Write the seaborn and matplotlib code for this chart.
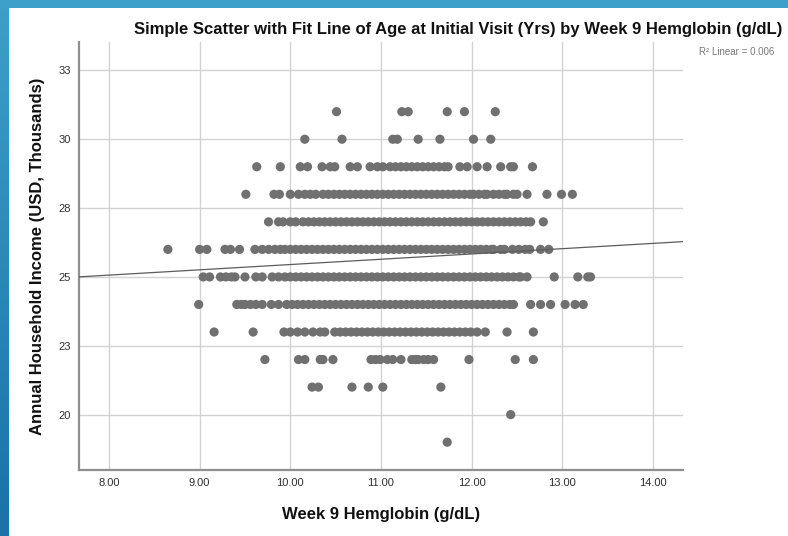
import numpy as np
import pandas as pd
import matplotlib
matplotlib.use("Agg")
import matplotlib.pyplot as plt
from matplotlib.patches import Rectangle
from matplotlib.colors import LinearSegmentedColormap
import seaborn as sns

# ---- data ----
hgb_31 = [10.51, 11.23, 11.30, 11.73, 11.92, 12.26]
hgb_30 = [10.16, 10.57, 11.13, 11.18, 11.41, 11.65, 12.02, 12.21]
hgb_29 = [9.63, 9.89, 10.11, 10.19, 10.35, 10.44, 10.49, 10.66, 10.74, 10.88, 10.96, 11.02,
          11.10, 11.16, 11.22, 11.28, 11.34, 11.40, 11.46, 11.52, 11.58, 11.64, 11.70, 11.74,
          11.87, 11.95, 12.06, 12.17, 12.32, 12.43, 12.46, 12.67]
hgb_28 = [9.51, 9.82, 9.88, 10.00, 10.09, 10.16, 10.22, 10.28, 10.36, 10.42, 10.48, 10.54,
          10.60, 10.66, 10.72, 10.78, 10.84, 10.90, 10.96, 11.02, 11.08, 11.14, 11.20, 11.26,
          11.32, 11.38, 11.44, 11.50, 11.56, 11.62, 11.68, 11.74, 11.80, 11.86, 11.92, 11.98,
          12.02, 12.08, 12.14, 12.17, 12.24, 12.30, 12.36, 12.39, 12.46, 12.50, 12.61, 12.83,
          12.99, 13.11]
hgb_27 = [9.76, 9.87, 9.92, 10.00, 10.06, 10.14, 10.20, 10.26, 10.32, 10.38, 10.44, 10.50,
          10.56, 10.62, 10.68, 10.74, 10.80, 10.86, 10.92, 10.98, 11.04, 11.10, 11.16, 11.22,
          11.28, 11.34, 11.40, 11.46, 11.52, 11.58, 11.64, 11.70, 11.76, 11.82, 11.88, 11.94,
          12.00, 12.06, 12.12, 12.18, 12.24, 12.30, 12.36, 12.42, 12.48, 12.54, 12.60, 12.65,
          12.79]
hgb_26 = [8.65, 9.00, 9.08, 9.28, 9.34, 9.44, 9.61, 9.69, 9.76, 9.83, 9.89, 9.94, 10.00,
          10.06, 10.12, 10.18, 10.24, 10.30, 10.36, 10.42, 10.48, 10.54, 10.60, 10.66, 10.72,
          10.78, 10.84, 10.90, 10.96, 11.02, 11.08, 11.14, 11.20, 11.26, 11.32, 11.38, 11.44,
          11.50, 11.56, 11.62, 11.68, 11.74, 11.80, 11.86, 11.92, 11.98, 12.04, 12.10, 12.16,
          12.22, 12.24, 12.32, 12.36, 12.45, 12.52, 12.59, 12.64, 12.76, 12.85]
hgb_25 = [9.04, 9.11, 9.23, 9.29, 9.35, 9.39, 9.50, 9.62, 9.69, 9.80, 9.87, 9.94, 10.00,
          10.06, 10.12, 10.18, 10.24, 10.30, 10.36, 10.42, 10.48, 10.54, 10.60, 10.66, 10.72,
          10.78, 10.84, 10.90, 10.96, 11.02, 11.08, 11.14, 11.20, 11.26, 11.32, 11.38, 11.44,
          11.50, 11.56, 11.62, 11.68, 11.74, 11.80, 11.86, 11.92, 11.98, 12.04, 12.10, 12.16,
          12.22, 12.28, 12.34, 12.40, 12.46, 12.52, 12.54, 12.61, 12.91, 13.17, 13.28, 13.31]
hgb_24 = [8.99, 9.41, 9.46, 9.50, 9.56, 9.62, 9.69, 9.79, 9.87, 9.96, 10.02, 10.08, 10.14,
          10.20, 10.26, 10.32, 10.38, 10.44, 10.50, 10.56, 10.62, 10.68, 10.74, 10.80, 10.86,
          10.92, 10.98, 11.04, 11.10, 11.16, 11.22, 11.28, 11.34, 11.40, 11.46, 11.52, 11.58,
          11.64, 11.70, 11.76, 11.82, 11.88, 11.94, 12.00, 12.06, 12.12, 12.18, 12.24, 12.30,
          12.36, 12.42, 12.46, 12.65, 12.76, 12.87, 13.03, 13.14, 13.23]
hgb_23 = [9.16, 9.59, 9.93, 10.00, 10.08, 10.16, 10.25, 10.33, 10.38, 10.49, 10.55, 10.61,
          10.67, 10.73, 10.79, 10.85, 10.91, 10.97, 11.03, 11.09, 11.15, 11.21, 11.27, 11.33,
          11.39, 11.45, 11.51, 11.57, 11.63, 11.69, 11.75, 11.81, 11.87, 11.93, 11.99, 12.06,
          12.15, 12.39, 12.68]
hgb_22 = [9.72, 10.09, 10.16, 10.33, 10.36, 10.47, 10.89, 10.94, 10.99, 11.07, 11.13, 11.22,
          11.34, 11.38, 11.41, 11.47, 11.52, 11.58, 11.97, 12.48, 12.68]
hgb_21 = [10.24, 10.31, 10.68, 10.86, 11.02, 11.66]
hgb_20 = [12.43]
hgb_19 = [11.73]

income_levels = [31, 30, 29, 28, 27, 26, 25, 24, 23, 22, 21, 20, 19]
hgb_rows = [hgb_31, hgb_30, hgb_29, hgb_28, hgb_27, hgb_26, hgb_25,
            hgb_24, hgb_23, hgb_22, hgb_21, hgb_20, hgb_19]

# linear fit reported by the chart (R² = 0.006)
fit_intercept = 23.53
fit_slope = 0.192
r2_label = "R\u00b2 Linear = 0.006"

x_ticks = [8, 9, 10, 11, 12, 13, 14]
x_tick_labels = ["8.00", "9.00", "10.00", "11.00", "12.00", "13.00", "14.00"]
y_ticks = [20, 22.5, 25, 27.5, 30, 32.5]
y_tick_labels = ["20", "23", "25", "28", "30", "33"]

title = "Simple Scatter with Fit Line of Age at Initial Visit (Yrs) by Week 9 Hemglobin (g/dL)"
x_label = "Week 9 Hemglobin (g/dL)"
y_label = "Annual Household Income (USD, Thousands)"

df = pd.DataFrame({
    "hgb": [v for row in hgb_rows for v in row],
    "income": [lvl for lvl, row in zip(income_levels, hgb_rows) for _ in row],
})

# ---- style ----
sns.set_theme(style="white")
plt.rcParams["font.family"] = ["Liberation Sans", "DejaVu Sans"]

W, H = 788, 536
fig = plt.figure(figsize=(W / 100, H / 100), dpi=100)
fig.patch.set_facecolor("white")

# blue frame (left and top strips)
bg = fig.add_axes([0, 0, 1, 1], zorder=-10)
bg.axis("off")
grad = np.linspace(0, 1, 256)[:, None]
cmap = LinearSegmentedColormap.from_list("frame", ["#3ca0ca", "#1a72a6"])
bg.imshow(grad, extent=[0, 9, H, 0], aspect="auto", cmap=cmap)
bg.add_patch(Rectangle((0, 0), W, 8, color="#3ca0ca", lw=0))
bg.set_xlim(0, W)
bg.set_ylim(H, 0)

ax = fig.add_axes([79 / W, 1 - 470 / H, 604 / W, 428 / H])
ax.set_facecolor("white")

sns.scatterplot(data=df, x="hgb", y="income", ax=ax, s=44, color="#707070",
                edgecolor="none", linewidth=0, zorder=3, legend=False)

xlim = (7.67, 14.33)
ylim = (17.99, 33.53)
fit_x = np.array(xlim)
fit_y = fit_intercept + fit_slope * fit_x
sns.lineplot(x=fit_x, y=fit_y, ax=ax, color="#5c5c5c", linewidth=0.9, zorder=4)

ax.set_xlim(*xlim)
ax.set_ylim(*ylim)
ax.set_xticks(x_ticks)
ax.set_xticklabels(x_tick_labels)
ax.set_yticks(y_ticks)
ax.set_yticklabels(y_tick_labels)
ax.tick_params(axis="both", length=0, labelsize=8, labelcolor="#303030")
ax.tick_params(axis="x", pad=6)
ax.tick_params(axis="y", pad=6)

ax.grid(True, color="#d2d2d2", linewidth=1)
ax.set_axisbelow(True)
for s in ["top", "right"]:
    ax.spines[s].set_visible(False)
for s in ["left", "bottom"]:
    ax.spines[s].set_color("#8f8f8f")
    ax.spines[s].set_linewidth(1.6)

ax.set_xlabel(x_label, fontsize=12, fontweight="bold", color="#111111")
ax.xaxis.label.set_va("baseline")
ax.xaxis.set_label_coords(0.5, (470 - 519) / 428)
ax.set_ylabel(y_label, fontsize=12, fontweight="bold", color="#111111")
ax.yaxis.label.set_va("center")
ax.yaxis.set_label_coords((38 - 79) / 604, 0.5)

fig.text(782 / W, 1 - 34 / H, title, ha="right", va="baseline",
         fontsize=11.95, fontweight="bold", color="#111111")
fig.text(774 / W, 1 - 52 / H, r2_label, ha="right", va="center",
         fontsize=7, color="#7a7a7a")

fig.savefig("out.png", dpi=100, facecolor="white")
